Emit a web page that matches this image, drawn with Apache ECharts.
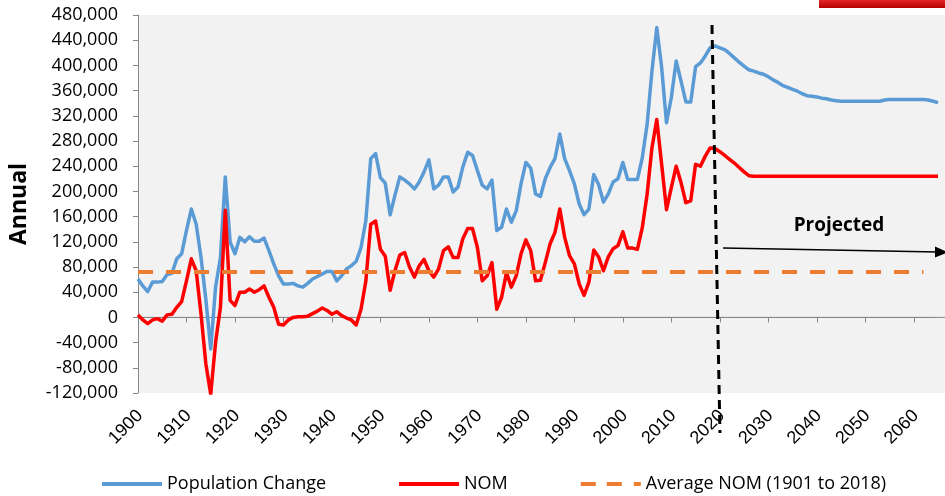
<!DOCTYPE html>
<html>
<head>
<meta charset="utf-8">
<script src="https://cdn.jsdelivr.net/npm/echarts@6/dist/echarts.min.js"></script>
<style>
    html, body { margin: 0; padding: 0; background: #fff; }
    #chart { width: 945px; height: 496px; }
</style>
</head>
<body>
<div id="chart"></div>
<script>
    // years 1900 .. 2065 (history + projection)
    const firstYear = 1900
    const lastYear = 2065
    const years = []
    for (let y = firstYear; y <= lastYear; y++) years.push(String(y))

    const xTickLabels = ['1900', '1910', '1920', '1930', '1940', '1950', '1960', '1970', '1980',
        '1990', '2000', '2010', '2020', '2030', '2040', '2050', '2060']

    const popChange = [
        61000, 50000, 41000, 56000, 56000, 57000, 68000, 70000, 93000, 101000,
        138000, 172000, 148000, 95000, 28000, -50000, 48000, 95000, 223000, 120000,
        101000, 127000, 120000, 128000, 121000, 121000, 126000, 106000, 85000, 66000,
        53000, 53000, 54000, 50000, 48000, 54000, 61000, 65000, 69000, 73000,
        73000, 58000, 66000, 77000, 82000, 89000, 111000, 154000, 252000, 260000,
        222000, 213000, 163000, 194000, 223000, 218000, 212000, 204000, 215000, 231000,
        250000, 204000, 210000, 223000, 223000, 199000, 207000, 239000, 262000, 257000,
        233000, 210000, 204000, 218000, 138000, 143000, 172000, 151000, 169000, 212000,
        246000, 237000, 196000, 192000, 220000, 238000, 252000, 291000, 252000, 233000,
        212000, 180000, 163000, 172000, 227000, 211000, 183000, 196000, 215000, 220000,
        246000, 219000, 219000, 219000, 253000, 306000, 391000, 460000, 397000, 309000,
        349000, 407000, 375000, 342000, 342000, 398000, 404000, 415000, 428000, 431000,
        428000, 425000, 419000, 412000, 405000, 399000, 393000, 391000, 388000, 386000,
        382000, 377000, 373000, 368000, 365000, 362000, 359000, 355000, 352000, 351000,
        350000, 348000, 347000, 345000, 344000, 343000, 343000, 343000, 343000, 343000,
        343000, 343000, 343000, 343000, 345000, 346000, 346000, 346000, 346000, 346000,
        346000, 346000, 346000, 345000, 343000, 341000
    ]

    const nom = [
        4000, -4000, -10000, -4000, -2000, -6000, 4000, 5000, 16000, 25000,
        58000, 93000, 74000, 5000, -74000, -122000, -40000, 16000, 170000, 27000,
        19000, 40000, 40000, 45000, 40000, 44000, 50000, 32000, 16000, -11000,
        -12000, -4000, 0, 1000, 1000, 2000, 6000, 10000, 15000, 11000,
        5000, 9000, 3000, -1000, -4000, -12000, 13000, 58000, 148000, 153000,
        108000, 97000, 43000, 74000, 99000, 103000, 80000, 64000, 82000, 92000,
        74000, 64000, 77000, 106000, 112000, 95000, 95000, 125000, 141000, 141000,
        111000, 58000, 66000, 87000, 13000, 32000, 71000, 48000, 66000, 101000,
        123000, 106000, 58000, 59000, 87000, 117000, 135000, 172000, 127000, 98000,
        85000, 53000, 35000, 56000, 107000, 96000, 74000, 96000, 109000, 114000,
        136000, 110000, 110000, 108000, 142000, 195000, 269000, 314000, 243000, 171000,
        206000, 240000, 214000, 182000, 185000, 243000, 240000, 256000, 269000, 268000,
        263000, 257000, 251000, 245000, 238000, 231000, 225000, 224000, 224000, 224000,
        224000, 224000, 224000, 224000, 224000, 224000, 224000, 224000, 224000, 224000,
        224000, 224000, 224000, 224000, 224000, 224000, 224000, 224000, 224000, 224000,
        224000, 224000, 224000, 224000, 224000, 224000, 224000, 224000, 224000, 224000,
        224000, 224000, 224000, 224000, 224000, 224000
    ]

    // average NOM 1901-2018, drawn as a reference line
    const avgNom = 73000
    const avgNomFrom = '1900'
    const avgNomTo = '2062'

    const yTicks = { min: -120000, max: 480000, step: 40000 }
    const projectionYear = '2019'

    const font = 'Open Sans'
    const axisGray = '#868686'
    const chart = echarts.init(document.getElementById('chart'))

    const option = {
        animation: false,
        textStyle: { fontFamily: font },
        grid: { left: 133, right: 7, top: 15, bottom: 103 },
        legend: {
            left: 97,
            top: 470,
            itemWidth: 60,
            itemHeight: 4,
            itemGap: 73,
            textStyle: { fontSize: 18, color: '#000', fontFamily: font },
            data: [
                { name: 'Population Change', icon: 'rect' },
                { name: 'NOM', icon: 'rect' },
                { name: 'Average NOM (1901 to 2018)', icon: 'path://M0,0H15V4H0Z M26,0H41V4H26Z M53,0H60V4H53Z' }
            ]
        },
        xAxis: [{
            type: 'category',
            data: years,
            boundaryGap: false,
            position: 'bottom',
            axisLine: { show: false, onZero: false },
            axisTick: { show: false },
            axisLabel: { show: false },
            splitLine: { show: false }
        }, {
            // zero line with ticks hanging down
            type: 'category',
            data: years,
            boundaryGap: false,
            position: 'top',
            axisLine: { show: true, onZero: true, lineStyle: { color: axisGray, width: 1 } },
            axisTick: { show: true, inside: true, interval: 9, length: 5, lineStyle: { color: axisGray } },
            axisLabel: { show: false },
            splitLine: { show: false }
        }],
        yAxis: {
            type: 'value',
            min: yTicks.min,
            max: yTicks.max,
            interval: yTicks.step,
            name: 'Annual',
            nameLocation: 'middle',
            nameGap: 107,
            nameTextStyle: { fontSize: 23, fontWeight: 'bold', color: '#000', fontFamily: font },
            axisLine: { show: true, lineStyle: { color: axisGray } },
            axisTick: { show: true, length: 5, lineStyle: { color: axisGray } },
            splitLine: { show: false },
            axisLabel: {
                fontSize: 18, color: '#000', margin: 20, fontFamily: font,
                formatter: v => v.toLocaleString('en-US')
            }
        },
        series: [{
            name: 'Population Change',
            type: 'line',
            data: popChange,
            symbol: 'none',
            lineStyle: { color: '#5B9BD5', width: 3.5, join: 'round' },
            itemStyle: { color: '#5B9BD5' }
        }, {
            name: 'NOM',
            type: 'line',
            data: nom,
            symbol: 'none',
            lineStyle: { color: '#FF0000', width: 3.5, join: 'round' },
            itemStyle: { color: '#FF0000' }
        }, {
            name: 'Average NOM (1901 to 2018)',
            type: 'line',
            data: [],
            symbol: 'none',
            lineStyle: { color: '#ED7D31', width: 4, type: [15, 13] },
            itemStyle: { color: '#ED7D31' },
            markLine: {
                silent: true,
                symbol: 'none',
                label: { show: false },
                lineStyle: { color: '#ED7D31', width: 4, type: [15, 13] },
                data: [[{ coord: [avgNomFrom, avgNom] }, { coord: [avgNomTo, avgNom] }]]
            }
        }]
    }
    chart.setOption(option)

    // background, zero line, slanted year labels and the projection notes
    const x0 = chart.convertToPixel({ xAxisIndex: 0 }, years[0])
    const x1 = chart.convertToPixel({ xAxisIndex: 0 }, years[years.length - 1])
    const yZero = chart.convertToPixel({ yAxisIndex: 0 }, 0)
    const yBottom = chart.convertToPixel({ yAxisIndex: 0 }, yTicks.min)
    const divX = chart.convertToPixel({ xAxisIndex: 0 }, projectionYear)

    const graphics = [
        { id: 'bg', type: 'rect', z: -1, shape: { x: x0, y: 15, width: 945 - x0, height: yBottom - 15 }, style: { fill: '#F2F2F2' } },
        { id: 'zero', type: 'line', z: 1, shape: { x1: x0, y1: yZero, x2: x1 + 7, y2: yZero }, style: { stroke: axisGray, lineWidth: 1 } }
    ]
    xTickLabels.forEach((lab, i) => {
        const px = chart.convertToPixel({ xAxisIndex: 0 }, lab)
        graphics.push({
            id: 'lab' + i, type: 'text', z: 5, x: px + 2, y: yBottom + 20, rotation: Math.PI / 4,
            style: { text: lab, fontSize: 18, fill: '#000', align: 'right', verticalAlign: 'middle' }
        })
    })
    graphics.push(
        {
            id: 'banner', type: 'rect', z: 10, shape: { x: 819, y: 0, width: 126, height: 8 },
            style: {
                fill: new echarts.graphic.LinearGradient(0, 0, 0, 1, [
                    { offset: 0, color: '#E32626' },
                    { offset: 1, color: '#B50000' }
                ])
            }
        },
        {
            id: 'divider', type: 'line', z: 50,
            shape: { x1: divX - 3, y1: 25, x2: divX + 5, y2: 433 },
            style: { stroke: '#000', lineWidth: 3, lineDash: [9, 6] }
        },
        {
            id: 'arrow', type: 'line', z: 50,
            shape: { x1: 723, y1: 248, x2: 938, y2: 252 },
            style: { stroke: '#000', lineWidth: 1.5 }
        },
        {
            id: 'arrowHead', type: 'polygon', z: 50,
            shape: { points: [[948, 252.2], [935, 246.5], [935, 257.5]] },
            style: { fill: '#000' }
        },
        {
            id: 'projected', type: 'text', z: 50, x: 839, y: 226,
            style: {
                text: 'Projected', fontSize: 19, fontWeight: 'bold', fontFamily: font,
                fill: '#000', align: 'center', verticalAlign: 'middle'
            }
        }
    )
    chart.setOption({ graphic: graphics })
</script>
</body>
</html>
